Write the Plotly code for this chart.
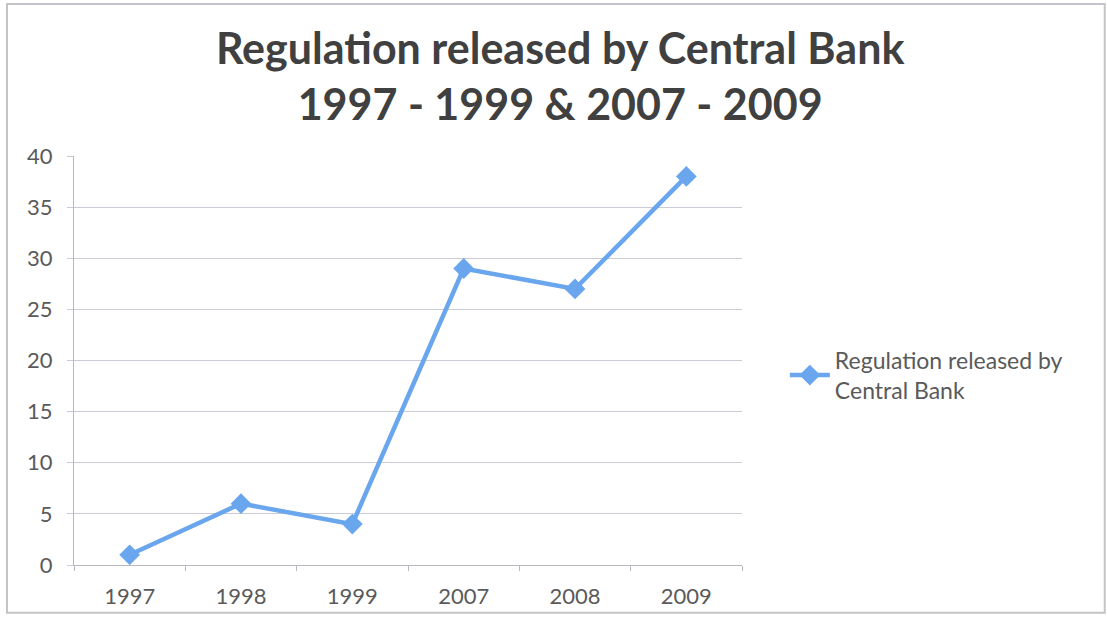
import plotly.graph_objects as go

# Regulations released by the Central Bank per year
years = ["1997", "1998", "1999", "2007", "2008", "2009"]
regulations = [1, 6, 4, 29, 27, 38]
y_ticks = [0, 5, 10, 15, 20, 25, 30, 35, 40]

series_name = "Regulation released by<br>Central Bank"
line_color = "#6aa6ee"
text_color = "#5a5a5a"
grid_color = "#c9cbd6"
font_family = "Lato, 'Open Sans', sans-serif"

fig = go.Figure()
fig.add_trace(go.Scatter(
    x=years,
    y=regulations,
    mode="lines+markers",
    name=series_name,
    line=dict(color=line_color, width=4.5),
    marker=dict(symbol="diamond", size=16, color=line_color),
))

fig.update_layout(
    width=1107,
    height=618,
    paper_bgcolor="white",
    plot_bgcolor="white",
    margin=dict(l=74, r=365, t=156, b=53, autoexpand=False),
    title=dict(
        text="Regulation released by Central Bank<br>1997 - 1999 & 2007 - 2009",
        x=0.506,
        xanchor="center",
        y=0.897,
        yanchor="middle",
        font=dict(family="Lato, sans-serif", size=43, color="#404040", weight="bold"),
    ),
    font=dict(family=font_family, color=text_color),
    showlegend=True,
    legend=dict(
        xref="container",
        yref="container",
        x=0.709,
        y=0.393,
        xanchor="left",
        yanchor="middle",
        font=dict(size=23, color=text_color),
        bgcolor="rgba(0,0,0,0)",
        itemwidth=40,
    ),
)

fig.update_xaxes(
    type="category",
    range=[-0.5, 5.5],
    automargin=False,
    showgrid=False,
    showline=True,
    linecolor="#b8b8c0",
    linewidth=1,
    ticks="outside",
    tickson="boundaries",
    ticklen=5,
    tickcolor="#b8b8c0",
    tickfont=dict(size=22, color=text_color),
    ticklabelstandoff=12,
)

fig.update_yaxes(
    range=[0, 40],
    automargin=False,
    tickvals=y_ticks,
    showgrid=True,
    gridcolor=grid_color,
    gridwidth=1,
    showline=True,
    linecolor="#b8b8c0",
    linewidth=1,
    ticks="outside",
    ticklen=6,
    tickcolor=grid_color,
    tickfont=dict(size=22, color=text_color),
    ticklabelstandoff=10,
    zeroline=False,
)

# Chart frame
fig.add_shape(
    type="rect",
    xref="paper",
    yref="paper",
    x0=-0.1003,
    x1=1.543,
    y0=-0.117,
    y1=1.3716,
    line=dict(color="#c4c4c8", width=2),
    layer="below",
)

fig.write_html("out.html")
